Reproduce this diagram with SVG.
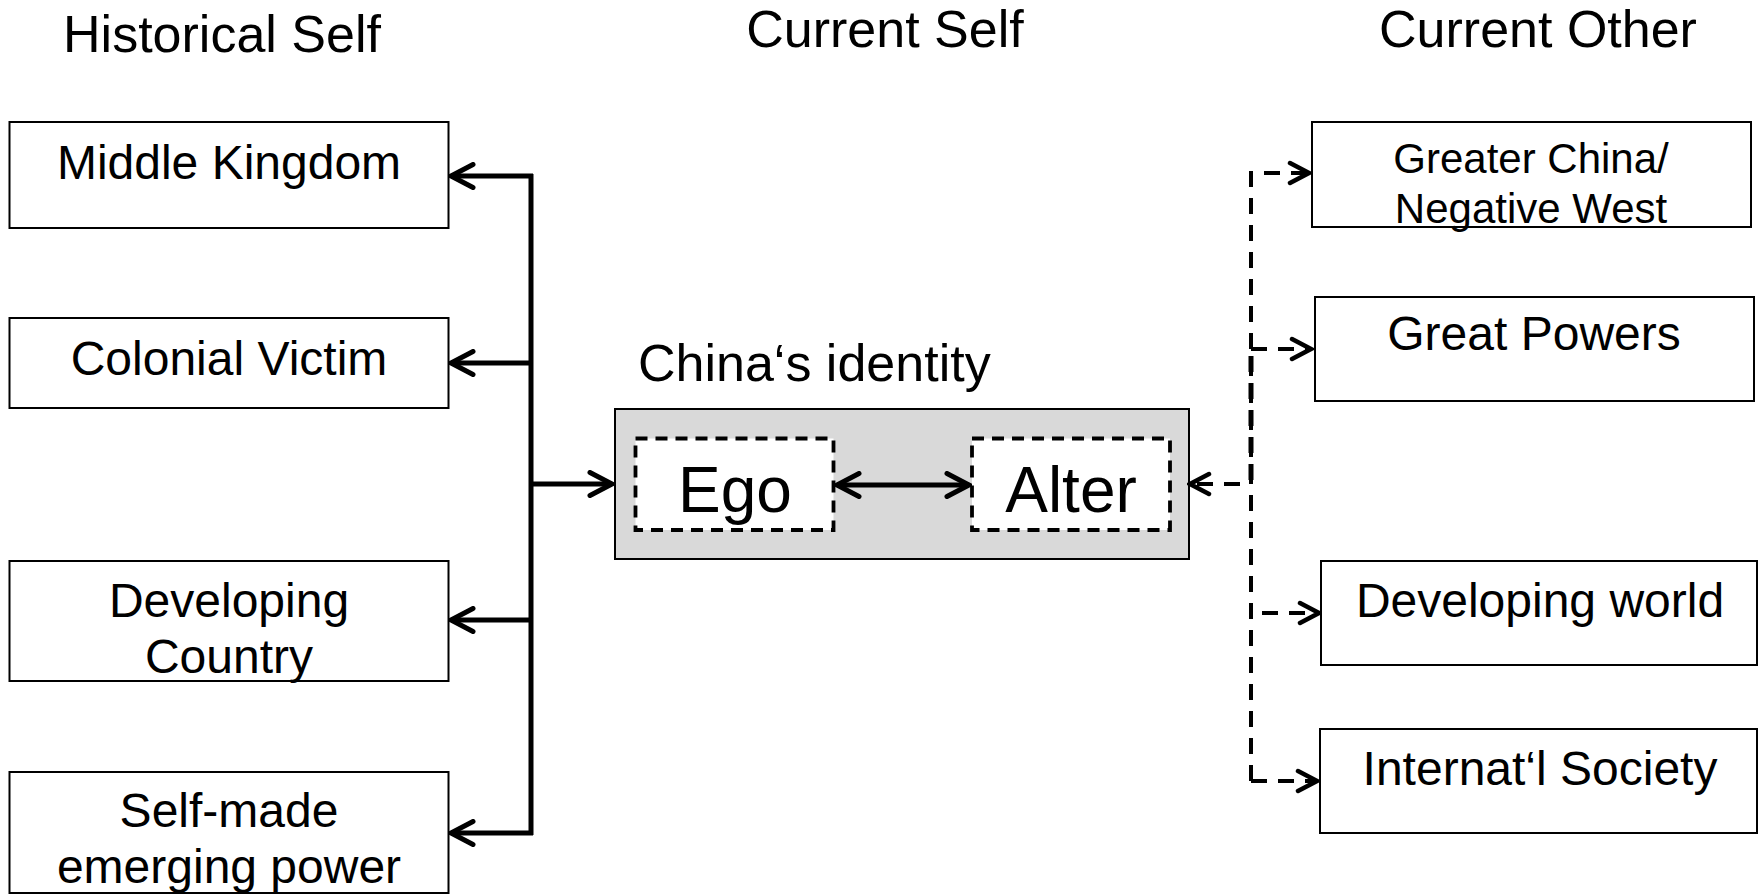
<svg xmlns="http://www.w3.org/2000/svg" width="1758" height="894" viewBox="0 0 1758 894">
<style>
text{font-family:"Liberation Sans",Arial,sans-serif;fill:#000;text-anchor:middle}
.title{font-size:52px}
.lbl{font-size:48px}
.sm{font-size:42px}
.big{font-size:64px}
.box{fill:#fff;stroke:#000;stroke-width:2}
.gray{fill:#d9d9d9;stroke:#000;stroke-width:2}
.dbox{fill:#fff;stroke:#000;stroke-width:3.8;stroke-dasharray:12 8}
.solid{fill:none;stroke:#000;stroke-width:5}
.dash{fill:none;stroke:#000;stroke-width:4;stroke-dasharray:16 11}
</style>
<defs>
<marker id="ah" viewBox="0 0 28 28" refX="25" refY="14" markerWidth="28" markerHeight="28" markerUnits="userSpaceOnUse" orient="auto-start-reverse">
<path d="M3,2.5 L25,14 L3,25.5" fill="none" stroke="#000" stroke-width="5" stroke-linecap="round" stroke-linejoin="miter"/>
</marker>
<marker id="ahd" viewBox="0 0 26 26" refX="23" refY="13" markerWidth="26" markerHeight="26" markerUnits="userSpaceOnUse" orient="auto">
<path d="M4,3 L23,13 L4,23" fill="none" stroke="#000" stroke-width="4.5" stroke-linecap="round" stroke-linejoin="miter"/>
</marker>
</defs>

<g id="titles">
<text class="title" x="222" y="52">Historical Self</text>
<text class="title" x="885" y="47">Current Self</text>
<text class="title" x="1538" y="47">Current Other</text>
</g>

<g id="middle-kingdom">
<rect class="box" x="9.5" y="122" width="439" height="106"/>
<text class="lbl" x="229" y="179">Middle Kingdom</text>
</g>
<g id="colonial-victim">
<rect class="box" x="9.5" y="318" width="439" height="90"/>
<text class="lbl" x="229" y="375">Colonial Victim</text>
</g>
<g id="developing-country">
<rect class="box" x="9.5" y="561" width="439" height="120"/>
<text class="lbl" x="229" y="617">Developing</text>
<text class="lbl" x="229" y="673">Country</text>
</g>
<g id="self-made">
<rect class="box" x="9.5" y="772" width="439" height="121"/>
<text class="lbl" x="229" y="827">Self-made</text>
<text class="lbl" x="229" y="883">emerging power</text>
</g>

<g id="china-identity">
<text class="title" x="638" y="381" style="text-anchor:start">China‘s identity</text>
<rect class="gray" x="615" y="409" width="574" height="150"/>
</g>
<g id="ego">
<rect class="dbox" x="635.5" y="438.5" width="198" height="91.5"/>
<text class="big" x="735" y="512">Ego</text>
</g>
<g id="alter">
<rect class="dbox" x="972" y="438.5" width="198" height="91.5"/>
<text class="big" x="1071" y="512">Alter</text>
</g>

<g id="greater-china">
<rect class="box" x="1312" y="122" width="439" height="105"/>
<text class="sm" x="1531" y="173">Greater China/</text>
<text class="sm" x="1531" y="223">Negative West</text>
</g>
<g id="great-powers">
<rect class="box" x="1315" y="297" width="439" height="104"/>
<text class="lbl" x="1534" y="350">Great Powers</text>
</g>
<g id="developing-world">
<rect class="box" x="1321" y="561" width="436" height="104"/>
<text class="lbl" x="1540" y="617">Developing world</text>
</g>
<g id="internatl-society">
<rect class="box" x="1320" y="729" width="437" height="104"/>
<text class="lbl" x="1540" y="785">Internat‘l Society</text>
</g>

<g id="connectors">
<path class="solid" d="M531,174 V835"/>
<path class="solid" d="M533,176 H451" marker-end="url(#ah)"/>
<path class="solid" d="M533,363 H451" marker-end="url(#ah)"/>
<path class="solid" d="M533,620 H451" marker-end="url(#ah)"/>
<path class="solid" d="M533,833 H451" marker-end="url(#ah)"/>
<path class="solid" d="M529,484 H612" marker-end="url(#ah)"/>
<path class="solid" d="M837,485 H969" marker-start="url(#ah)" marker-end="url(#ah)"/>
<path class="dash" d="M1251,781 V173 H1309" marker-end="url(#ahd)"/>
<path class="dash" style="stroke-width:5" d="M1251,356 V484"/>
<path class="dash" d="M1251,349 H1311" marker-end="url(#ahd)"/>
<path class="dash" d="M1240,484 H1190" marker-end="url(#ahd)"/>
<path class="dash" d="M1262,613 H1319" marker-end="url(#ahd)"/>
<path class="dash" d="M1251,781 H1317" marker-end="url(#ahd)"/>
</g>
</svg>
